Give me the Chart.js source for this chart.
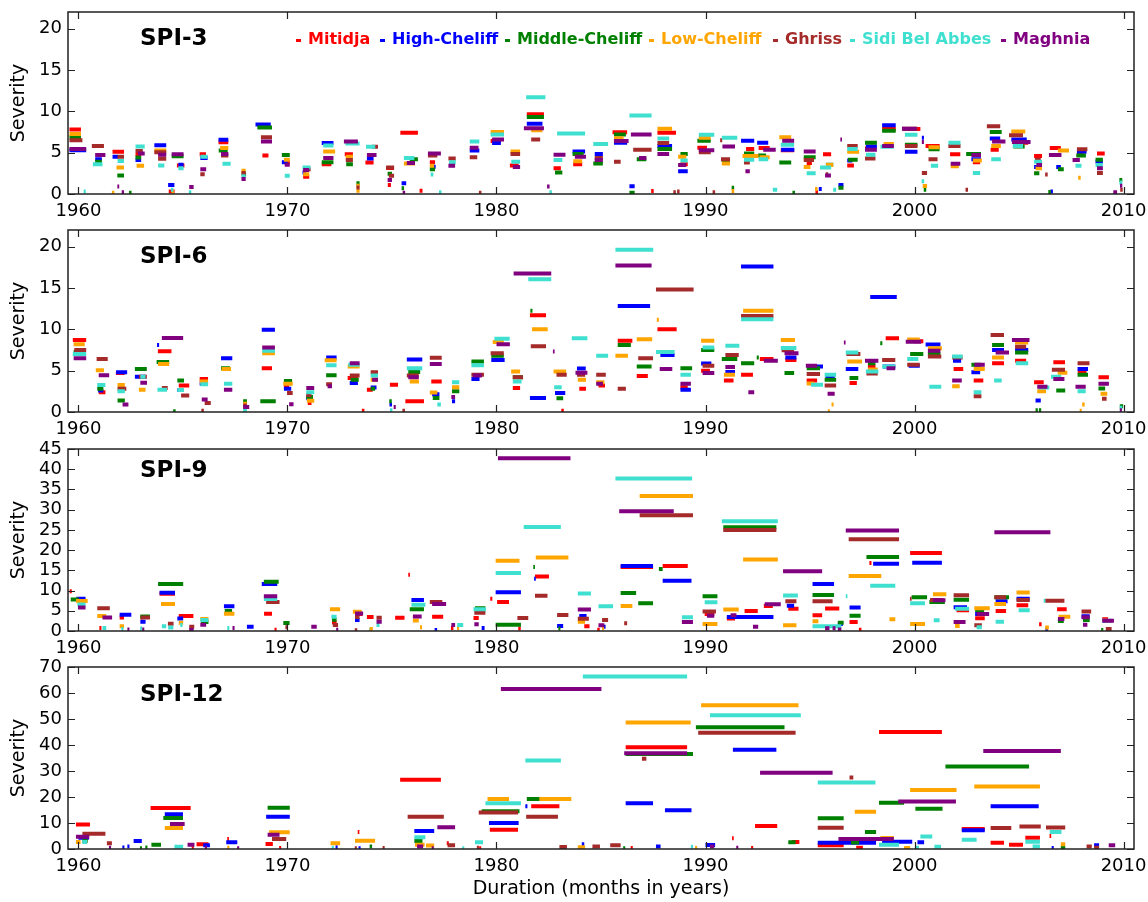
<!DOCTYPE html>
<html lang="en">
<head>
<meta charset="UTF-8">
<title>Drought events by SPI time scale</title>
<script src="https://cdn.jsdelivr.net/npm/chart.js"></script>
<style>
  body { margin: 0; background: #fff; font-family: 'DejaVu Sans', sans-serif; }
  #wrap { position: relative; width: 1148px; height: 902px; overflow: hidden; }
  #wrap canvas { position: absolute; left: 0; }
  .ptitle { position: absolute; left: 140px; font-weight: bold; font-size: 23px; line-height: 23px; color: #000; }
  .leg { position: absolute; top: 31px; font-weight: bold; font-size: 16px; line-height: 16px; white-space: nowrap; }
  .leg i { position: absolute; left: -12px; top: 8px; width: 5px; height: 3px; }
</style>
</head>
<body>
<div id="wrap">
  <canvas id="p0" width="1148" height="218" style="top:0px"></canvas>
  <canvas id="p1" width="1148" height="218" style="top:218px"></canvas>
  <canvas id="p2" width="1148" height="218" style="top:437px"></canvas>
  <canvas id="p3" width="1148" height="247" style="top:655px"></canvas>
  <div class="ptitle" style="top:26px">SPI-3</div>
  <div class="ptitle" style="top:244px">SPI-6</div>
  <div class="ptitle" style="top:458px">SPI-9</div>
  <div class="ptitle" style="top:682px">SPI-12</div>
  <div id="legend"></div>
</div>

<script>
  // regions (legend order) and their colours
  const regions = ['Mitidja', 'High-Cheliff', 'Middle-Cheliff', 'Low-Cheliff', 'Ghriss', 'Sidi Bel Abbes', 'Maghnia'];
  const colors = ['#ff0000', '#0000ff', '#008000', '#ffa500', '#a52a2a', '#40e0d0', '#800080'];

  const yearTicks = [1960, 1970, 1980, 1990, 2000, 2010];
  const ticksSpi3 = [0, 5, 10, 15, 20];
  const ticksSpi6 = [0, 5, 10, 15, 20];
  const ticksSpi9 = [0, 5, 10, 15, 20, 25, 30, 35, 40, 45];
  const ticksSpi12 = [0, 10, 20, 30, 40, 50, 60, 70];

  // drought events: [start year, end year, severity]
  // ---- SPI-3 ----
  const spi3Mitidja = [[1959.57,1960.12,7.8],[1961.63,1962.18,5.1],[1962.73,1963.0,4.75],[1964.32,1964.6,0.3],[1964.71,1965.07,3.45],[1965.8,1966.1,4.8],[1966.7,1967.17,6.25],[1968.8,1969.09,4.65],[1969.83,1970.11,3.85],[1970.75,1971.04,2.1],[1971.64,1972.1,3.6],[1972.74,1973.13,4.8],[1973.73,1974.12,3.8],[1974.72,1975.1,3.15],[1974.8,1974.95,1.1],[1975.4,1976.24,7.4],[1976.32,1976.46,0.4],[1976.81,1977.06,3.85],[1979.72,1980.21,6.4],[1980.64,1981.06,3.45],[1981.45,1982.27,9.65],[1982.73,1983.08,3.1],[1983.67,1984.1,3.6],[1985.55,1986.25,7.45],[1987.4,1987.52,0.35],[1987.7,1988.59,7.4],[1988.8,1989.15,3.6],[1989.61,1990.07,5.6],[1991.94,1992.33,5.45],[1992.54,1993.07,5.55],[1993.6,1994.24,5.3],[1994.84,1995.09,3.75],[1995.26,1995.38,0.25],[1995.62,1996.01,4.8],[1996.78,1997.1,3.45],[1997.63,1997.92,5.5],[1998.45,1999.1,7.9],[1999.51,2000.28,7.85],[2000.53,2001.2,5.8],[2001.7,2002.19,4.8],[2002.79,2003.14,3.85],[2003.64,2004.03,5.35],[2004.81,2005.44,6.2],[2005.72,2006.1,4.6],[2006.47,2007.0,5.55],[2007.77,2008.09,4.85],[2008.73,2009.1,4.9]];
  const spi3High = [[1959.57,1960.37,5.3],[1960.8,1961.12,4.2],[1961.63,1961.9,4.5],[1962.73,1963.0,4.1],[1963.63,1964.2,5.9],[1964.29,1964.59,1.1],[1964.78,1965.03,3.55],[1965.83,1966.18,4.35],[1966.7,1967.17,6.55],[1968.47,1969.2,8.4],[1969.73,1970.01,3.85],[1970.72,1970.89,2.6],[1971.64,1972.2,6.15],[1973.8,1974.12,4.3],[1975.46,1975.68,1.3],[1976.95,1977.09,3.3],[1978.72,1979.18,5.25],[1979.79,1980.21,6.15],[1981.45,1982.2,8.5],[1983.64,1984.24,5.15],[1984.7,1985.09,4.85],[1985.62,1986.25,6.2],[1986.36,1986.61,0.95],[1987.7,1988.4,5.8],[1988.69,1989.15,2.75],[1991.7,1992.33,6.45],[1992.47,1993.0,6.2],[1993.62,1994.25,5.35],[1995.42,1995.56,0.6],[1996.36,1996.6,1.1],[1996.78,1997.03,4.05],[1997.67,1998.2,5.75],[1998.45,1999.1,8.3],[1999.54,2000.14,5.1],[2000.35,2000.45,6.8],[2002.72,2003.18,4.2],[2003.6,2004.1,6.7],[2004.63,2005.37,6.6],[2005.72,2005.97,3.25],[2006.5,2006.62,0.3],[2006.78,2007.0,3.25],[2007.77,2008.23,5.1],[2008.66,2009.01,3.9]];
  const spi3Middle = [[1959.57,1960.12,6.85],[1960.8,1961.12,3.9],[1961.86,1962.18,2.25],[1962.42,1962.54,0.15],[1962.73,1963.0,4.4],[1964.46,1965.03,4.55],[1966.71,1967.14,5.25],[1967.81,1968.02,2.4],[1968.56,1969.26,8.05],[1969.73,1970.11,4.7],[1971.64,1972.2,3.85],[1972.81,1973.13,3.6],[1973.3,1973.45,1.3],[1974.79,1975.0,2.45],[1975.46,1975.58,0.7],[1975.85,1976.24,4.2],[1976.81,1977.06,3.0],[1981.45,1982.27,9.3],[1982.8,1983.15,2.6],[1983.64,1984.17,4.85],[1984.63,1985.09,3.7],[1985.62,1986.19,7.2],[1986.36,1986.61,0.15],[1986.71,1987.17,4.2],[1987.7,1988.4,5.45],[1988.8,1989.15,4.85],[1989.61,1990.25,6.45],[1990.78,1991.17,4.1],[1991.25,1991.37,0.75],[1991.84,1992.33,4.9],[1992.51,1992.9,4.65],[1993.53,1994.1,3.8],[1994.16,1994.28,0.15],[1994.7,1995.27,4.45],[1995.76,1996.11,3.55],[1996.36,1996.6,0.75],[1996.82,1997.28,4.15],[1997.63,1998.2,6.2],[1998.45,1999.1,7.65],[1999.54,2000.14,5.95],[2000.44,2000.56,0.5],[2000.67,2001.2,5.4],[2002.47,2003.18,4.85],[2003.6,2004.17,7.5],[2004.73,2005.27,5.75],[2005.72,2005.97,2.5],[2006.4,2006.52,0.25],[2006.86,2007.14,3.0],[2007.74,2008.2,4.65],[2008.66,2009.01,4.15],[2009.8,2009.94,1.7]];
  const spi3Low = [[1959.57,1960.12,7.25],[1961.6,1961.72,0.15],[1961.82,1962.18,3.2],[1962.78,1963.14,3.4],[1963.63,1964.2,5.25],[1964.45,1964.57,0.3],[1966.78,1967.17,5.55],[1967.8,1968.0,2.8],[1969.83,1970.11,4.15],[1970.75,1971.04,2.4],[1971.71,1972.28,5.15],[1972.79,1973.13,4.5],[1973.3,1973.45,1.0],[1973.3,1973.45,0.4],[1975.57,1976.1,3.7],[1976.81,1977.02,3.4],[1979.72,1980.36,7.5],[1980.67,1981.13,5.15],[1981.66,1982.2,7.7],[1983.67,1984.1,3.95],[1985.62,1986.08,6.75],[1987.7,1988.4,7.9],[1988.69,1989.08,4.5],[1989.68,1990.25,6.8],[1990.78,1991.17,3.7],[1991.25,1991.37,0.35],[1991.77,1992.54,4.6],[1992.58,1993.07,4.45],[1993.53,1994.1,6.85],[1994.7,1995.02,3.25],[1995.24,1995.36,0.6],[1995.76,1996.11,3.5],[1996.78,1997.35,5.1],[1998.52,1999.01,6.05],[2000.39,2000.6,0.97],[2000.67,2001.2,5.65],[2001.73,2002.12,3.35],[2002.79,2003.22,4.05],[2003.67,2004.13,5.8],[2004.63,2005.3,7.55],[2005.79,2006.1,3.1],[2006.86,2007.39,5.25],[2007.83,2007.95,1.95]];
  const spi3Ghriss = [[1959.57,1960.19,6.5],[1960.64,1961.22,5.8],[1961.87,1962.18,4.5],[1962.73,1963.08,5.2],[1963.63,1964.2,5.05],[1963.81,1964.2,4.25],[1965.83,1966.04,2.4],[1966.82,1967.17,4.65],[1967.8,1968.0,2.55],[1968.73,1969.26,6.85],[1970.75,1971.11,3.0],[1972.79,1973.13,4.1],[1973.3,1973.45,0.8],[1974.05,1974.33,5.7],[1974.72,1975.1,3.2],[1974.85,1975.1,2.2],[1976.72,1977.17,4.65],[1977.7,1978.05,4.3],[1978.72,1979.08,4.45],[1979.16,1979.28,0.15],[1980.67,1981.13,4.85],[1981.66,1982.09,6.6],[1984.7,1985.09,4.35],[1985.62,1985.94,3.9],[1986.54,1987.42,5.35],[1987.7,1988.26,6.15],[1988.46,1988.58,0.2],[1988.64,1988.76,0.3],[1989.68,1990.25,5.05],[1990.34,1990.46,0.2],[1990.7,1990.8,6.5],[1990.74,1991.17,4.2],[1991.84,1992.12,3.8],[1994.7,1995.19,4.1],[1995.75,1995.87,2.4],[1996.78,1997.28,5.8],[1997.63,1998.13,4.3],[1999.4,2000.14,7.9],[1999.54,2000.14,5.8],[2000.35,2000.6,2.55],[2000.67,2001.1,4.2],[2001.62,2002.2,5.8],[2002.44,2002.56,0.5],[2003.46,2004.1,8.2],[2004.52,2005.19,7.1],[2005.76,2006.04,4.15],[2006.25,2006.37,2.35],[2007.77,2008.27,5.4],[2008.73,2009.01,2.55],[2009.84,2009.96,0.5]];
  const spi3Sidi = [[1960.25,1960.35,0.3],[1960.69,1961.15,3.6],[1961.87,1962.18,4.0],[1962.73,1963.17,5.75],[1963.81,1964.11,3.45],[1964.42,1964.54,0.5],[1964.78,1965.03,3.1],[1965.28,1965.4,0.2],[1965.83,1966.18,4.5],[1966.89,1967.28,3.65],[1967.8,1968.0,2.15],[1969.87,1970.11,2.2],[1970.72,1971.1,3.2],[1971.71,1972.2,5.85],[1972.77,1973.45,6.1],[1973.76,1974.2,5.7],[1975.57,1976.07,4.35],[1976.85,1976.98,2.35],[1977.25,1977.37,0.2],[1977.73,1978.05,3.85],[1978.72,1979.18,6.35],[1979.72,1980.36,7.2],[1980.71,1981.13,3.9],[1981.42,1982.34,11.7],[1982.53,1982.65,0.2],[1982.73,1983.15,4.1],[1982.9,1984.24,7.3],[1984.63,1985.34,6.05],[1986.36,1987.42,9.5],[1987.7,1988.26,6.7],[1988.8,1989.15,4.05],[1989.68,1990.42,7.15],[1990.78,1991.52,6.8],[1991.84,1992.33,4.15],[1992.54,1993.0,4.2],[1993.22,1993.43,0.5],[1993.6,1994.24,5.95],[1994.84,1995.27,2.5],[1995.48,1996.01,3.2],[1996.11,1996.25,0.5],[1996.78,1997.28,5.45],[1997.67,1998.13,4.75],[1998.37,1999.01,5.7],[1999.54,2000.14,7.15],[2000.34,2000.46,1.55],[2000.78,2001.13,3.4],[2001.62,2002.2,6.2],[2002.79,2003.14,2.55],[2003.67,2004.13,4.2],[2004.7,2005.19,5.8],[2005.72,2006.1,3.9],[2007.7,2007.99,3.4],[2008.66,2009.01,3.5],[2009.8,2009.94,1.4]];
  const spi3Maghnia = [[1959.57,1960.37,5.45],[1960.8,1961.29,4.7],[1961.86,1961.95,0.9],[1962.07,1962.18,0.2],[1962.85,1963.17,4.9],[1963.81,1964.2,4.75],[1964.46,1965.03,4.8],[1965.3,1965.51,0.85],[1965.83,1966.11,3.0],[1966.82,1967.17,4.85],[1967.8,1968.0,1.8],[1968.73,1969.26,6.35],[1969.87,1970.11,3.55],[1970.75,1971.04,2.9],[1971.71,1972.2,4.35],[1972.7,1973.37,6.35],[1973.8,1974.26,4.7],[1974.79,1975.0,1.7],[1975.51,1975.63,0.15],[1975.71,1976.1,3.75],[1976.72,1977.34,4.9],[1977.7,1978.02,3.4],[1978.72,1979.14,5.6],[1979.79,1980.36,6.6],[1980.78,1981.13,3.25],[1981.31,1982.27,7.95],[1982.42,1982.54,0.9],[1982.73,1983.3,4.75],[1983.75,1984.28,4.5],[1984.7,1985.09,4.1],[1985.62,1986.32,6.4],[1986.43,1987.42,7.2],[1986.82,1987.17,4.35],[1987.7,1988.26,4.85],[1988.69,1989.08,3.5],[1989.68,1990.42,5.3],[1990.81,1991.41,5.75],[1991.91,1992.12,2.75],[1992.76,1993.36,5.35],[1993.67,1994.24,6.45],[1994.7,1995.27,5.15],[1995.72,1996.0,2.25],[1996.45,1996.53,6.6],[1997.63,1998.2,5.35],[1998.45,1999.01,5.8],[1999.4,2000.1,7.9],[2000.35,2000.45,6.3],[2001.73,2002.19,3.65],[2002.72,2003.18,4.7],[2003.71,2004.35,6.35],[2004.66,2005.55,6.3],[2005.83,2006.1,3.5],[2006.43,2007.03,4.7],[2007.56,2007.91,4.1],[2008.73,2009.01,3.1],[2009.51,2009.69,0.2],[2009.83,2009.94,1.0]];

  // ---- SPI-6 ----
  const spi6Mitidja = [[1959.73,1960.37,8.7],[1960.97,1961.29,2.4],[1961.79,1962.21,4.7],[1963.8,1964.45,7.35],[1964.8,1965.3,3.2],[1965.8,1966.2,4.0],[1968.77,1969.26,5.3],[1969.83,1970.08,3.2],[1970.97,1971.15,1.1],[1972.88,1973.37,4.1],[1973.56,1973.68,0.15],[1973.8,1974.08,2.7],[1974.9,1975.29,3.3],[1975.64,1976.53,1.3],[1976.88,1977.38,3.7],[1980.78,1981.13,2.9],[1981.6,1982.37,11.7],[1983.1,1983.22,0.15],[1983.96,1984.28,2.8],[1984.88,1985.19,3.2],[1985.8,1986.5,8.6],[1986.71,1987.24,4.35],[1987.7,1988.62,10.0],[1988.8,1989.15,3.0],[1989.79,1990.21,5.0],[1990.88,1991.34,3.8],[1991.7,1992.27,4.5],[1992.6,1993.25,6.4],[1993.82,1994.35,6.3],[1994.84,1995.34,3.8],[1996.89,1997.24,3.5],[1997.77,1998.13,5.5],[1998.62,1999.26,8.9],[1999.96,2000.42,8.55],[2001.87,2002.33,5.2],[2002.83,2003.29,3.8],[2003.71,2004.28,5.9],[2004.81,2005.34,6.2],[2005.72,2006.18,3.6],[2006.64,2007.2,6.0],[2007.81,2008.23,4.8],[2008.8,2009.3,4.2]];
  const spi6High = [[1960.94,1961.19,2.6],[1961.8,1962.33,4.8],[1962.7,1963.24,4.25],[1963.76,1963.86,8.1],[1964.73,1965.05,2.65],[1965.8,1966.2,3.45],[1966.82,1967.36,6.5],[1968.77,1969.4,9.95],[1969.83,1970.18,2.8],[1970.9,1971.15,1.65],[1971.85,1972.35,6.6],[1972.98,1973.37,3.5],[1973.98,1974.26,2.95],[1974.88,1975.0,0.9],[1975.71,1976.45,6.35],[1976.92,1977.27,2.15],[1977.87,1978.02,1.3],[1978.8,1979.19,4.0],[1979.75,1980.39,6.3],[1981.6,1982.37,1.7],[1982.8,1983.29,2.3],[1983.85,1984.27,5.25],[1985.8,1987.35,12.8],[1987.84,1988.52,6.9],[1988.8,1989.3,2.7],[1989.79,1990.28,5.85],[1990.95,1991.41,4.85],[1991.7,1993.25,17.6],[1993.82,1994.35,6.6],[1994.95,1995.62,5.5],[1995.74,1996.18,4.2],[1996.71,1997.31,5.2],[1997.88,1999.15,13.9],[1998.48,1999.08,5.5],[1999.72,2000.25,5.6],[2000.53,2001.24,8.15],[2001.84,2002.23,6.2],[2002.72,2003.14,4.8],[2003.71,2004.28,7.5],[2004.81,2005.44,7.5],[2005.79,2006.04,1.4],[2007.8,2008.3,5.2]];
  const spi6Middle = [[1959.77,1960.3,7.25],[1960.9,1961.19,2.8],[1961.87,1962.22,1.4],[1962.7,1963.27,5.2],[1963.74,1964.34,6.05],[1964.53,1964.65,0.1],[1964.73,1965.05,3.8],[1966.82,1967.25,5.3],[1967.88,1968.06,1.3],[1968.7,1969.44,1.3],[1969.83,1970.22,3.75],[1970.9,1971.22,1.8],[1971.85,1972.35,4.45],[1973.02,1973.41,3.9],[1973.98,1974.19,2.8],[1974.87,1974.99,1.3],[1975.78,1976.35,4.85],[1976.95,1977.27,1.7],[1977.87,1978.22,2.5],[1978.8,1979.4,6.1],[1979.75,1980.35,6.8],[1980.78,1981.27,4.2],[1981.62,1981.72,12.25],[1982.87,1983.19,1.65],[1985.8,1986.43,8.1],[1986.71,1987.42,5.5],[1988.8,1989.36,5.3],[1989.79,1990.42,7.5],[1990.78,1991.52,6.4],[1991.7,1992.33,5.9],[1992.45,1992.55,6.6],[1993.78,1994.24,4.7],[1994.84,1995.48,5.3],[1995.7,1996.25,3.9],[1996.89,1997.31,4.1],[1997.77,1998.13,5.9],[1998.36,1998.46,8.3],[1999.79,2000.42,7.0],[2000.64,2001.24,7.0],[2002.72,2003.18,5.7],[2003.71,2004.28,8.1],[2004.81,2005.44,7.2],[2005.79,2005.9,0.2],[2005.95,2006.06,0.2],[2006.78,2007.21,2.6],[2007.8,2008.3,4.5],[2008.8,2009.12,2.85],[2009.82,2009.98,0.7]];
  const spi6Low = [[1959.77,1960.3,8.2],[1960.83,1961.22,5.05],[1961.87,1962.22,3.25],[1962.89,1963.21,2.7],[1963.81,1964.34,5.8],[1965.8,1966.2,3.7],[1966.85,1967.3,5.2],[1967.88,1968.06,1.0],[1968.79,1969.4,7.1],[1969.8,1970.25,3.4],[1970.93,1971.28,1.35],[1971.78,1972.35,6.25],[1972.88,1973.45,5.5],[1973.98,1974.33,3.9],[1975.85,1976.29,3.7],[1976.81,1977.17,2.35],[1977.87,1978.22,3.0],[1979.82,1980.35,8.45],[1980.7,1981.13,4.9],[1981.7,1982.45,10.0],[1982.73,1983.33,4.9],[1983.89,1984.28,3.9],[1984.77,1985.16,3.6],[1985.69,1986.29,6.8],[1986.71,1987.45,8.8],[1987.67,1987.77,11.15],[1989.79,1990.42,8.6],[1990.88,1991.41,4.5],[1991.8,1993.25,12.25],[1993.6,1994.28,8.7],[1994.84,1995.2,3.45],[1995.85,1995.95,0.1],[1996.03,1996.13,0.9],[1996.78,1997.49,6.1],[1997.77,1998.24,5.15],[1999.65,2000.25,8.75],[2000.64,2001.31,7.7],[2001.8,2002.16,3.1],[2002.83,2003.36,5.2],[2003.71,2004.28,6.6],[2004.81,2005.44,8.4],[2005.87,2006.29,2.5],[2006.85,2007.31,4.75],[2007.9,2008.0,0.15],[2008.02,2008.14,0.9],[2008.9,2009.22,2.2]];
  const spi6Ghriss = [[1959.8,1960.37,7.5],[1960.87,1961.4,6.4],[1961.87,1962.29,2.8],[1962.89,1963.27,4.25],[1963.99,1964.27,2.9],[1964.91,1965.3,2.0],[1965.88,1966.0,0.15],[1966.04,1966.33,1.1],[1967.88,1968.06,0.8],[1969.98,1970.25,2.3],[1970.9,1971.15,2.05],[1971.85,1972.13,3.35],[1972.98,1973.45,4.4],[1973.98,1974.33,4.8],[1975.5,1975.62,0.15],[1975.71,1976.28,4.4],[1976.81,1977.38,6.55],[1978.8,1979.4,4.5],[1979.72,1980.35,7.1],[1980.78,1981.27,4.2],[1981.64,1982.37,7.95],[1982.87,1983.36,4.5],[1983.85,1984.24,4.5],[1984.77,1985.23,4.5],[1985.8,1986.19,2.8],[1986.78,1987.49,6.5],[1987.63,1989.43,14.8],[1989.86,1990.42,5.6],[1990.95,1991.59,6.9],[1991.7,1993.25,11.6],[1993.64,1994.24,7.45],[1994.84,1995.48,4.6],[1995.7,1996.25,3.2],[1996.74,1997.41,7.0],[1997.7,1998.24,4.65],[1998.45,1999.08,6.3],[1999.65,2000.25,5.7],[2000.64,2001.28,6.7],[2001.8,2002.3,6.6],[2002.83,2003.2,1.9],[2003.64,2004.28,9.3],[2004.81,2005.34,7.9],[2006.57,2007.2,5.1],[2007.8,2008.37,5.9],[2008.97,2009.19,1.6]];
  const spi6Sidi = [[1959.73,1960.37,7.0],[1960.9,1961.29,3.25],[1961.87,1962.22,2.5],[1962.96,1963.21,4.25],[1963.78,1964.24,2.7],[1964.73,1965.05,2.65],[1965.83,1966.2,3.35],[1966.96,1967.36,3.4],[1967.88,1968.06,0.2],[1968.79,1969.4,7.4],[1970.9,1971.28,2.4],[1971.85,1972.35,5.65],[1972.91,1973.45,5.7],[1973.98,1974.33,4.4],[1974.9,1975.02,0.2],[1975.71,1976.45,5.3],[1977.17,1977.34,0.9],[1977.87,1978.22,3.6],[1978.8,1979.4,5.65],[1979.9,1980.63,8.85],[1980.78,1981.2,3.7],[1981.52,1982.62,16.05],[1982.76,1983.12,3.0],[1983.6,1984.35,8.9],[1984.77,1985.34,6.8],[1985.69,1987.5,19.6],[1987.63,1988.52,7.25],[1988.8,1989.3,4.5],[1989.86,1990.42,7.8],[1990.95,1991.62,8.0],[1991.7,1993.25,11.2],[1993.6,1994.35,7.75],[1995.05,1995.62,3.3],[1995.7,1996.25,4.5],[1996.71,1997.31,7.2],[1997.67,1998.27,4.9],[1998.45,1999.08,5.5],[1999.65,2000.18,6.4],[2000.71,2001.28,3.05],[2001.8,2002.3,6.7],[2002.83,2003.2,2.4],[2003.81,2004.17,3.8],[2004.84,2005.44,5.9],[2005.95,2006.45,2.95],[2006.53,2007.02,4.25],[2007.8,2008.19,2.5],[2009.82,2009.94,0.5]];
  const spi6Maghnia = [[1959.77,1960.37,6.5],[1960.97,1961.47,4.45],[1962.11,1962.39,0.9],[1962.96,1963.28,3.55],[1963.99,1965.01,8.95],[1965.9,1966.18,1.5],[1966.96,1967.36,2.7],[1967.88,1968.17,0.6],[1968.79,1969.4,7.8],[1970.08,1970.29,0.95],[1970.9,1971.28,2.9],[1971.92,1972.13,3.1],[1972.98,1973.45,5.9],[1974.05,1974.33,3.9],[1975.08,1975.18,0.6],[1975.78,1976.28,4.2],[1976.81,1977.38,5.8],[1977.84,1978.02,1.8],[1978.87,1979.3,4.4],[1980.0,1980.64,8.2],[1980.82,1982.62,16.75],[1982.7,1982.78,7.3],[1983.78,1984.35,4.75],[1984.77,1985.09,3.4],[1985.69,1987.42,17.7],[1987.81,1988.41,5.2],[1988.8,1989.3,3.4],[1989.86,1990.42,4.7],[1990.95,1991.41,5.45],[1992.05,1992.33,2.4],[1992.79,1993.46,6.2],[1993.78,1994.45,7.1],[1994.8,1995.34,5.6],[1995.84,1996.18,2.2],[1996.62,1996.7,8.4],[1997.63,1998.27,6.2],[1998.66,1999.08,5.3],[1999.58,2000.32,8.5],[2000.64,2001.24,7.4],[2001.8,2002.26,3.8],[2002.86,2003.36,5.7],[2003.88,2004.52,7.2],[2004.66,2005.5,8.7],[2005.87,2006.36,3.05],[2006.64,2007.17,4.0],[2007.7,2008.19,3.05],[2008.8,2009.3,3.4],[2009.82,2009.92,0.2]];

  // ---- SPI-9 ----
  const spi9Mitidja = [[1959.58,1959.68,9.85],[1961.0,1961.1,0.75],[1961.97,1962.18,3.35],[1962.96,1963.08,3.35],[1963.88,1964.62,9.2],[1964.8,1965.5,3.7],[1968.88,1969.26,4.25],[1969.38,1969.48,0.3],[1972.13,1972.35,2.1],[1973.27,1973.59,4.2],[1973.8,1974.12,3.45],[1975.15,1975.6,3.3],[1975.78,1975.86,13.9],[1976.92,1977.45,3.55],[1977.82,1977.94,0.75],[1978.9,1979.15,3.2],[1979.7,1979.8,8.0],[1980.03,1980.6,7.2],[1981.04,1981.16,0.6],[1981.84,1982.51,13.45],[1984.2,1984.45,1.15],[1984.82,1984.94,0.3],[1985.94,1987.49,15.85],[1987.95,1989.15,16.1],[1989.96,1990.42,4.2],[1991.02,1991.41,3.1],[1991.87,1992.5,4.95],[1992.79,1993.22,6.2],[1993.96,1994.45,5.5],[1995.12,1995.58,3.9],[1995.72,1996.4,5.55],[1996.89,1997.28,2.25],[1997.34,1997.46,0.3],[1997.84,1997.94,16.8],[1999.79,2001.31,19.3],[2002.01,2002.61,5.1],[2002.9,2003.36,3.15],[2003.88,2004.38,4.95],[2004.88,2005.44,6.35],[2005.96,2006.08,1.65],[2006.82,2007.28,5.35],[2008.98,2009.26,2.9]];
  const spi9High = [[1959.9,1960.34,8.0],[1961.97,1962.53,4.0],[1962.96,1963.21,2.3],[1963.88,1964.62,9.45],[1964.73,1965.01,3.1],[1966.96,1967.46,6.1],[1968.06,1968.38,1.05],[1968.77,1969.51,11.6],[1973.23,1973.45,2.7],[1975.93,1976.53,7.65],[1977.04,1977.16,0.25],[1979.29,1979.43,0.75],[1979.96,1981.17,9.6],[1981.8,1981.88,12.9],[1982.9,1983.19,1.25],[1983.96,1984.31,3.7],[1985.05,1985.22,1.05],[1985.94,1987.49,16.1],[1987.95,1989.33,12.45],[1991.02,1993.25,3.45],[1993.89,1994.24,6.25],[1995.12,1996.15,11.65],[1996.33,1996.57,1.75],[1996.89,1997.42,5.8],[1998.02,1999.26,16.65],[1999.89,2001.31,16.85],[2001.87,2002.51,5.85],[2002.9,2003.43,4.2],[2003.88,2004.45,7.35],[2004.88,2005.51,8.0],[2006.26,2006.38,0.35],[2007.99,2008.38,3.65]];
  const spi9Middle = [[1959.63,1960.02,7.8],[1962.96,1963.42,3.6],[1963.81,1965.01,11.6],[1965.86,1966.22,2.2],[1967.0,1967.35,4.95],[1968.87,1969.58,12.2],[1969.8,1970.1,1.95],[1972.13,1972.35,2.8],[1973.93,1974.03,0.3],[1975.85,1976.53,5.4],[1978.97,1979.47,5.65],[1979.96,1981.17,1.55],[1981.76,1981.84,15.85],[1982.96,1983.06,0.6],[1985.94,1986.68,9.4],[1986.78,1987.49,6.85],[1987.77,1987.95,15.35],[1989.86,1990.57,8.6],[1990.85,1993.39,25.65],[1995.12,1996.15,8.9],[1996.33,1996.61,2.05],[1996.89,1997.42,3.8],[1997.7,1999.26,18.3],[1999.86,2000.6,8.35],[2000.71,2001.45,7.2],[2001.87,2002.61,7.75],[2002.9,2003.33,5.2],[2003.82,2004.52,8.35],[2006.86,2007.14,2.5],[2008.06,2008.38,2.7],[2008.93,2009.03,0.25]];
  const spi9Low = [[1959.88,1960.44,7.4],[1960.9,1961.33,3.7],[1961.97,1962.18,1.15],[1963.95,1964.62,6.65],[1964.8,1965.01,2.05],[1965.83,1966.22,2.95],[1966.96,1967.46,4.25],[1972.03,1972.52,5.35],[1973.13,1973.55,4.75],[1973.94,1974.08,0.5],[1976.0,1976.28,2.6],[1976.34,1976.44,0.9],[1978.11,1978.21,0.75],[1979.96,1981.1,17.4],[1981.88,1983.44,18.15],[1983.89,1984.24,2.3],[1985.05,1985.15,0.65],[1985.94,1986.5,6.2],[1986.85,1989.4,33.4],[1989.86,1990.57,1.75],[1990.85,1991.59,5.3],[1991.8,1993.46,17.65],[1993.71,1994.35,1.4],[1995.12,1995.4,2.4],[1996.85,1998.41,13.6],[1998.8,1999.08,2.9],[1999.79,2000.5,1.75],[2000.88,2001.52,9.1],[2001.94,2002.16,1.25],[2002.86,2003.6,5.6],[2003.82,2004.38,6.7],[2004.88,2005.51,9.5],[2006.25,2006.43,0.85],[2006.89,2007.45,3.55]];
  const spi9Ghriss = [[1960.9,1961.5,5.65],[1963.0,1963.42,3.35],[1964.28,1964.55,1.8],[1965.3,1965.54,1.05],[1968.98,1969.62,7.2],[1969.9,1970.0,0.9],[1972.17,1972.42,1.5],[1973.23,1973.45,3.45],[1973.22,1973.34,0.2],[1974.26,1974.51,3.3],[1976.81,1977.41,7.2],[1978.94,1979.47,4.5],[1981.0,1981.52,3.2],[1981.84,1982.44,8.7],[1982.9,1983.44,3.95],[1983.89,1984.42,3.05],[1985.05,1985.34,2.7],[1986.11,1986.25,1.9],[1986.85,1989.4,28.6],[1989.86,1990.5,4.8],[1990.85,1993.39,25.0],[1993.82,1994.35,7.35],[1995.12,1996.08,7.35],[1996.85,1999.26,22.7],[1999.78,1999.86,8.0],[2000.74,2001.38,7.65],[2001.87,2002.61,8.85],[2002.86,2003.22,1.4],[2003.82,2004.38,8.35],[2004.88,2005.51,7.65],[2006.25,2007.17,7.5],[2007.99,2008.45,4.8],[2009.15,2009.43,0.5]];
  const spi9Sidi = [[1959.95,1960.34,6.55],[1961.15,1961.33,0.75],[1962.05,1962.15,0.5],[1962.95,1963.05,0.6],[1963.99,1964.2,1.15],[1964.29,1964.54,0.85],[1964.87,1964.98,1.5],[1965.83,1966.22,2.7],[1967.12,1967.22,0.75],[1968.87,1969.51,7.9],[1972.1,1972.35,3.55],[1974.26,1974.4,1.5],[1975.93,1976.6,6.5],[1978.12,1978.41,1.5],[1978.9,1979.5,5.35],[1979.96,1981.17,14.35],[1981.3,1983.08,25.7],[1983.89,1984.52,9.25],[1984.88,1985.58,6.1],[1985.69,1989.36,37.7],[1988.87,1989.4,3.4],[1989.96,1990.57,7.1],[1990.78,1993.46,27.15],[1993.71,1994.42,8.8],[1995.12,1996.5,1.15],[1996.71,1996.79,8.6],[1997.88,1999.08,11.2],[1999.79,2000.5,6.85],[2000.92,2001.2,2.65],[2001.94,2002.61,5.5],[2002.97,2003.22,0.9],[2003.88,2004.28,2.3],[2004.98,2005.51,5.1],[2006.18,2006.26,7.5],[2008.98,2009.44,2.55]];
  const spi9Maghnia = [[1959.98,1960.34,5.8],[1961.15,1961.61,3.35],[1962.34,1962.44,0.4],[1963.05,1963.15,0.35],[1965.3,1965.51,0.25],[1965.83,1966.11,1.55],[1967.37,1967.47,0.75],[1968.87,1969.51,8.6],[1971.14,1971.4,1.05],[1972.33,1972.43,0.3],[1973.23,1973.62,4.35],[1974.26,1974.51,2.3],[1976.0,1976.42,3.6],[1976.92,1977.59,6.65],[1977.84,1978.02,1.5],[1978.94,1979.15,1.65],[1980.07,1983.54,42.7],[1983.89,1984.52,5.3],[1984.88,1985.16,1.4],[1985.87,1988.48,29.6],[1988.87,1989.4,2.25],[1990.07,1990.42,3.8],[1991.2,1991.48,3.9],[1992.27,1992.52,1.05],[1992.83,1993.6,6.6],[1993.71,1995.58,14.75],[1995.72,1995.93,0.65],[1996.08,1996.22,0.65],[1996.33,1996.5,0.4],[1996.71,1999.26,24.85],[2000.88,2001.48,7.6],[2001.87,2002.44,2.25],[2002.97,2003.57,4.2],[2003.82,2006.5,24.4],[2006.86,2007.17,2.95],[2007.99,2008.38,3.4],[2008.06,2008.27,1.55],[2008.98,2009.54,2.55]];

  // ---- SPI-12 ----
  const spi12Mitidja = [[1959.88,1960.55,9.4],[1963.45,1965.37,15.8],[1965.42,1965.52,0.3],[1965.65,1966.22,1.8],[1967.12,1967.2,3.85],[1968.95,1969.3,1.9],[1969.6,1969.7,0.35],[1973.36,1973.44,6.55],[1975.39,1977.34,26.6],[1977.62,1977.72,2.2],[1979.17,1979.27,0.3],[1979.68,1981.03,7.45],[1981.66,1983.01,16.4],[1986.18,1989.12,39.1],[1986.42,1986.52,0.35],[1991.27,1991.35,4.1],[1992.18,1992.28,0.4],[1992.37,1993.43,8.85],[1994.13,1994.49,2.65],[1995.37,1996.61,1.4],[1997.21,1997.53,0.5],[1998.3,2001.31,45.0],[2002.26,2003.36,7.7],[2003.64,2004.28,2.45],[2004.52,2005.19,1.65],[2005.3,2006.0,4.35],[2006.46,2006.54,5.0]];
  const spi12High = [[1960.0,1960.5,4.3],[1962.1,1962.2,0.6],[1962.34,1962.44,1.0],[1962.64,1963.03,3.1],[1964.13,1965.0,13.35],[1965.97,1966.29,1.4],[1967.07,1967.6,2.55],[1968.98,1970.11,12.45],[1972.3,1972.4,0.7],[1973.4,1973.5,0.3],[1976.07,1977.02,6.9],[1979.64,1981.06,10.0],[1981.38,1981.48,16.4],[1984.08,1984.2,1.8],[1986.18,1987.49,17.55],[1987.63,1987.85,1.0],[1988.06,1989.33,14.9],[1990.0,1990.46,1.5],[1991.31,1993.39,38.2],[1995.37,1998.16,2.45],[1998.45,1999.89,2.8],[2000.14,2000.46,2.55],[2002.26,2003.36,7.2],[2003.64,2005.94,16.4],[2006.56,2006.66,0.4],[2008.59,2008.83,1.4]];
  const spi12Middle = [[1960.19,1960.44,3.1],[1962.94,1963.04,0.3],[1963.2,1963.3,0.6],[1963.49,1963.95,1.65],[1964.06,1965.0,11.95],[1969.05,1970.11,15.9],[1973.93,1974.05,1.0],[1976.07,1976.46,3.1],[1979.29,1981.1,14.5],[1981.45,1983.01,19.25],[1986.06,1986.16,0.3],[1986.18,1989.4,36.5],[1989.54,1993.78,46.8],[1993.96,1994.31,2.55],[1995.37,1996.61,11.8],[1996.96,1997.35,2.5],[1997.63,1998.16,6.55],[1998.3,1999.5,17.8],[2000.04,2001.34,15.5],[2001.48,2005.48,31.7],[2007.0,2007.21,0.5]];
  const spi12Low = [[1959.88,1960.1,2.7],[1964.13,1965.0,8.1],[1967.12,1967.22,0.5],[1969.12,1970.11,6.4],[1972.06,1972.52,2.2],[1973.23,1974.19,3.2],[1976.1,1976.56,1.65],[1976.63,1977.02,1.3],[1979.57,1980.6,19.25],[1982.05,1983.58,19.25],[1983.89,1984.24,0.65],[1986.18,1989.29,48.7],[1989.5,1989.6,0.4],[1989.79,1994.45,55.3],[1997.14,1998.16,14.35],[1998.37,1999.01,4.25],[1999.5,1999.79,0.4],[1999.79,2002.01,22.7],[2002.86,2006.0,24.0],[2007.0,2007.21,1.8]];
  const spi12Ghriss = [[1960.19,1961.29,5.9],[1961.36,1961.6,2.2],[1969.26,1969.94,3.85],[1973.22,1973.32,0.3],[1974.55,1974.65,0.4],[1975.75,1977.48,12.45],[1977.66,1978.02,1.4],[1979.06,1979.16,0.5],[1979.15,1981.03,14.0],[1981.42,1982.94,12.45],[1983.01,1983.37,0.8],[1984.59,1984.95,0.95],[1985.44,1985.94,1.4],[1986.96,1987.17,34.7],[1989.65,1994.31,44.7],[1995.37,1996.61,8.2],[1996.89,1997.07,27.5],[2003.64,2004.63,8.1],[2005.02,2006.04,8.7],[2006.29,2007.21,8.3],[2008.23,2008.48,1.0],[2008.59,2008.83,0.5]];
  const spi12Sidi = [[1960.19,1960.41,2.7],[1964.59,1965.01,0.9],[1972.12,1972.22,0.5],[1976.07,1976.6,4.5],[1978.36,1978.46,0.3],[1978.97,1979.36,2.55],[1979.47,1981.17,17.6],[1981.38,1983.08,34.0],[1984.13,1989.12,66.3],[1989.3,1989.4,0.9],[1990.21,1994.56,51.4],[1995.37,1998.13,25.6],[1998.3,1999.26,1.65],[2000.04,2000.21,0.5],[2000.28,2000.85,4.85],[2000.95,2001.27,0.9],[2002.26,2002.97,3.6],[2005.3,2006.0,2.8],[2005.65,2006.0,1.0],[2006.47,2007.03,6.55]];
  const spi12Maghnia = [[1959.88,1960.52,4.75],[1961.46,1961.56,0.5],[1964.38,1965.08,9.6],[1965.22,1965.55,1.65],[1966.05,1966.15,0.5],[1967.59,1967.69,0.3],[1969.05,1969.62,5.5],[1976.2,1976.49,1.0],[1976.9,1977.0,0.3],[1977.17,1978.02,8.35],[1980.21,1985.02,61.5],[1986.11,1989.12,36.8],[1990.21,1990.42,1.0],[1991.47,1991.57,0.5],[1992.61,1996.08,29.35],[1996.36,1999.01,3.85],[1999.22,2001.98,18.3],[2003.29,2007.0,37.7],[2009.29,2009.6,1.4]];

  const panels = [
    { id: 'p0', yMax: 22, yTicks: ticksSpi3, axisH: 24, xTitle: false,
      series: [spi3Mitidja, spi3High, spi3Middle, spi3Low, spi3Ghriss, spi3Sidi, spi3Maghnia] },
    { id: 'p1', yMax: 22, yTicks: ticksSpi6, axisH: 24, xTitle: false,
      series: [spi6Mitidja, spi6High, spi6Middle, spi6Low, spi6Ghriss, spi6Sidi, spi6Maghnia] },
    { id: 'p2', yMax: 45, yTicks: ticksSpi9, axisH: 24, xTitle: false,
      series: [spi9Mitidja, spi9High, spi9Middle, spi9Low, spi9Ghriss, spi9Sidi, spi9Maghnia] },
    { id: 'p3', yMax: 70, yTicks: ticksSpi12, axisH: 53, xTitle: true,
      series: [spi12Mitidja, spi12High, spi12Middle, spi12Low, spi12Ghriss, spi12Sidi, spi12Maghnia] }
  ];

  // each event becomes a short horizontal line; a null point breaks the line
  function toPoints(events) {
    const pts = [];
    events.forEach(e => {
      pts.push({ x: e[0], y: e[2] }, { x: e[1], y: e[2] }, { x: e[1], y: null });
    });
    return pts;
  }

  // box around the plot with inward ticks on all four sides
  const framePlugin = {
    id: 'frame',
    afterDatasetsDraw(chart) {
      const { ctx, chartArea: a, scales } = chart;
      ctx.save();
      ctx.strokeStyle = '#222';
      ctx.lineWidth = 1.2;
      ctx.beginPath();
      scales.x.ticks.forEach(t => {
        const px = Math.round(scales.x.getPixelForValue(t.value)) + 0.5;
        ctx.moveTo(px, a.bottom); ctx.lineTo(px, a.bottom - 7);
        ctx.moveTo(px, a.top); ctx.lineTo(px, a.top + 7);
      });
      scales.y.ticks.forEach(t => {
        const py = Math.round(scales.y.getPixelForValue(t.value)) + 0.5;
        ctx.moveTo(a.left, py); ctx.lineTo(a.left + 7, py);
        ctx.moveTo(a.right, py); ctx.lineTo(a.right - 7, py);
      });
      ctx.stroke();
      ctx.lineWidth = 1.5;
      ctx.strokeRect(a.left, a.top, a.right - a.left, a.bottom - a.top);
      ctx.restore();
    }
  };

  const tickFont = { family: 'DejaVu Sans', size: 18 };

  panels.forEach(cfg => {
    const datasets = cfg.series.map((ev, i) => ({
      label: regions[i],
      data: toPoints(ev),
      borderColor: colors[i],
      backgroundColor: colors[i],
      borderWidth: 4,
      borderCapStyle: 'butt',
      pointRadius: 0,
      pointHoverRadius: 0,
      spanGaps: false,
      tension: 0,
      order: 6 - i
    }));

    new Chart(document.getElementById(cfg.id), {
      type: 'line',
      data: { datasets },
      options: {
        responsive: false,
        animation: false,
        devicePixelRatio: 1,
        events: [],
        layout: { padding: { left: 0, right: 14, top: 12, bottom: 0 } },
        plugins: { legend: { display: false }, tooltip: { enabled: false } },
        scales: {
          x: {
            type: 'linear', min: 1959.5, max: 2010.5,
            grid: { display: false, drawTicks: false },
            border: { display: false },
            ticks: { padding: 7, color: '#000', font: tickFont, maxRotation: 0, autoSkip: false,
                     callback: v => String(v) },
            afterBuildTicks: s => { s.ticks = yearTicks.map(v => ({ value: v })); },
            afterFit: s => { s.height = cfg.axisH; s.paddingLeft = 0; s.paddingRight = 0; },
            title: { display: cfg.xTitle, text: 'Duration (months in years)', color: '#000',
                     font: { family: 'DejaVu Sans', size: 19 }, padding: { top: 0, bottom: 2 } }
          },
          y: {
            min: 0, max: cfg.yMax,
            grid: { display: false, drawTicks: false },
            border: { display: false },
            ticks: { padding: 6, color: '#000', font: tickFont, autoSkip: false,
                     callback: v => String(v) },
            afterBuildTicks: s => { s.ticks = cfg.yTicks.map(v => ({ value: v })); },
            afterFit: s => { s.width = 68; s.paddingTop = 0; s.paddingBottom = 0; },
            title: { display: true, text: 'Severity', color: '#000',
                     font: { family: 'DejaVu Sans', size: 19 }, padding: { top: 8, bottom: 0 } }
          }
        }
      },
      plugins: [framePlugin]
    });
  });

  // legend inside the first panel
  const legendLeft = [308, 392, 517, 661, 785, 862, 1013];
  const legend = document.getElementById('legend');
  regions.forEach((name, i) => {
    const d = document.createElement('div');
    d.className = 'leg';
    d.style.left = legendLeft[i] + 'px';
    d.style.color = colors[i];
    d.innerHTML = '<i style="background:' + colors[i] + '"></i>' + name;
    legend.appendChild(d);
  });
</script>
</body>
</html>
